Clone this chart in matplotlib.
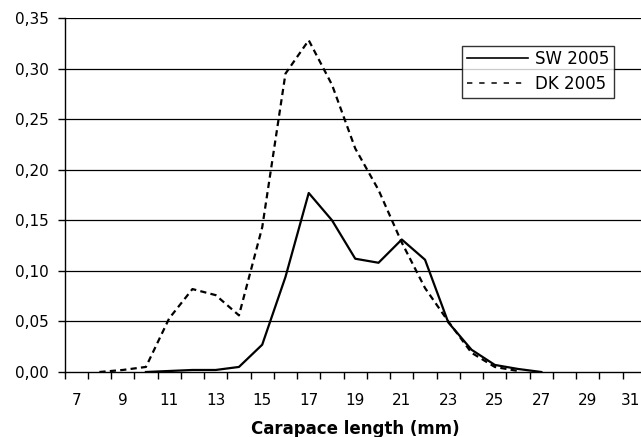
import numpy as np
import matplotlib.pyplot as plt
import matplotlib.transforms as mtransforms

# Size classes (mm) and proportions
sw_len = [10, 11, 12, 13, 14, 15, 16, 17, 18, 19, 20, 21, 22, 23, 24, 25, 26, 27]
sw_val = [0.000, 0.001, 0.002, 0.002, 0.005, 0.027, 0.094, 0.177, 0.150, 0.112, 0.108, 0.131,
          0.111, 0.049, 0.022, 0.007, 0.003, 0.000]

dk_len = [8, 9, 10, 11, 12, 13, 14, 15, 16, 17, 18, 19, 20, 21, 22, 23, 24, 25, 26]
dk_val = [0.000, 0.002, 0.005, 0.053, 0.082, 0.076, 0.056, 0.143, 0.295, 0.328, 0.284, 0.221,
          0.180, 0.128, 0.083, 0.050, 0.019, 0.005, 0.001]

x_labels = list(range(7, 32, 2))
y_ticks = np.arange(0, 0.351, 0.05)

plt.rcParams['font.family'] = ['DejaVu Sans']

fig = plt.figure(figsize=(6.41, 4.37), dpi=100)
ax = fig.add_axes([64.5 / 641, 1 - 372 / 437, 581.5 / 641, 354 / 437])

ax.plot(sw_len, sw_val, color='black', lw=1.6, label='SW 2005', zorder=3)
ax.plot(dk_len, dk_val, color='black', lw=1.6, ls=(0, (2.8, 1.9)), label='DK 2005', zorder=3)

ax.set_xlim(6.5, 31.5)
ax.set_ylim(0, 0.35)

ax.set_yticks(y_ticks)
ax.set_yticklabels([f"{v:.2f}".replace('.', ',') for v in y_ticks])
for v in y_ticks[1:]:
    ax.axhline(v, color='black', lw=0.9, zorder=1)

# category axis: tick marks at boundaries, labels at odd centres
ax.set_xticks(np.arange(6.5, 32, 1))
ax.set_xticklabels([])
ax.set_xticks(x_labels, minor=True)
ax.set_xticklabels([str(v) for v in x_labels], minor=True)
ax.tick_params(axis='x', which='major', direction='out', length=5, width=1)
ax.tick_params(axis='x', which='minor', length=0, pad=15, labelsize=11)
ax.tick_params(axis='y', direction='out', length=5, width=1, pad=6, labelsize=11)

# last label sits right at the picture edge, nudge it in a little
last = ax.get_xticklabels(minor=True)[-1]
last.set_transform(last.get_transform() + mtransforms.ScaledTranslation(-4 / 100, 0, fig.dpi_scale_trans))

for s in ['top', 'right']:
    ax.spines[s].set_visible(False)
ax.spines['left'].set_linewidth(1)
ax.spines['bottom'].set_linewidth(1)

leg = ax.legend(loc='upper left', bbox_to_anchor=(462.3 / 641, 1 - 45.7 / 437),
                bbox_transform=fig.transFigure,
                frameon=True, fancybox=False, edgecolor='black', fontsize=12,
                handlelength=3.7, borderpad=0.27, labelspacing=0.42, handletextpad=0.38,
                borderaxespad=0)
leg.get_frame().set_linewidth(1)
leg_lines = leg.get_lines()
leg_lines[0].set_linewidth(1.2)
leg_lines[1].set_linewidth(1.1)
leg_lines[1].set_linestyle((0, (3.5, 4.5)))

fig.text(355 / 641, 1 - 433.5 / 437, 'Carapace length (mm)', ha='center', va='baseline',
         fontsize=12, fontweight='bold')

fig.savefig('out.png', dpi=100)
